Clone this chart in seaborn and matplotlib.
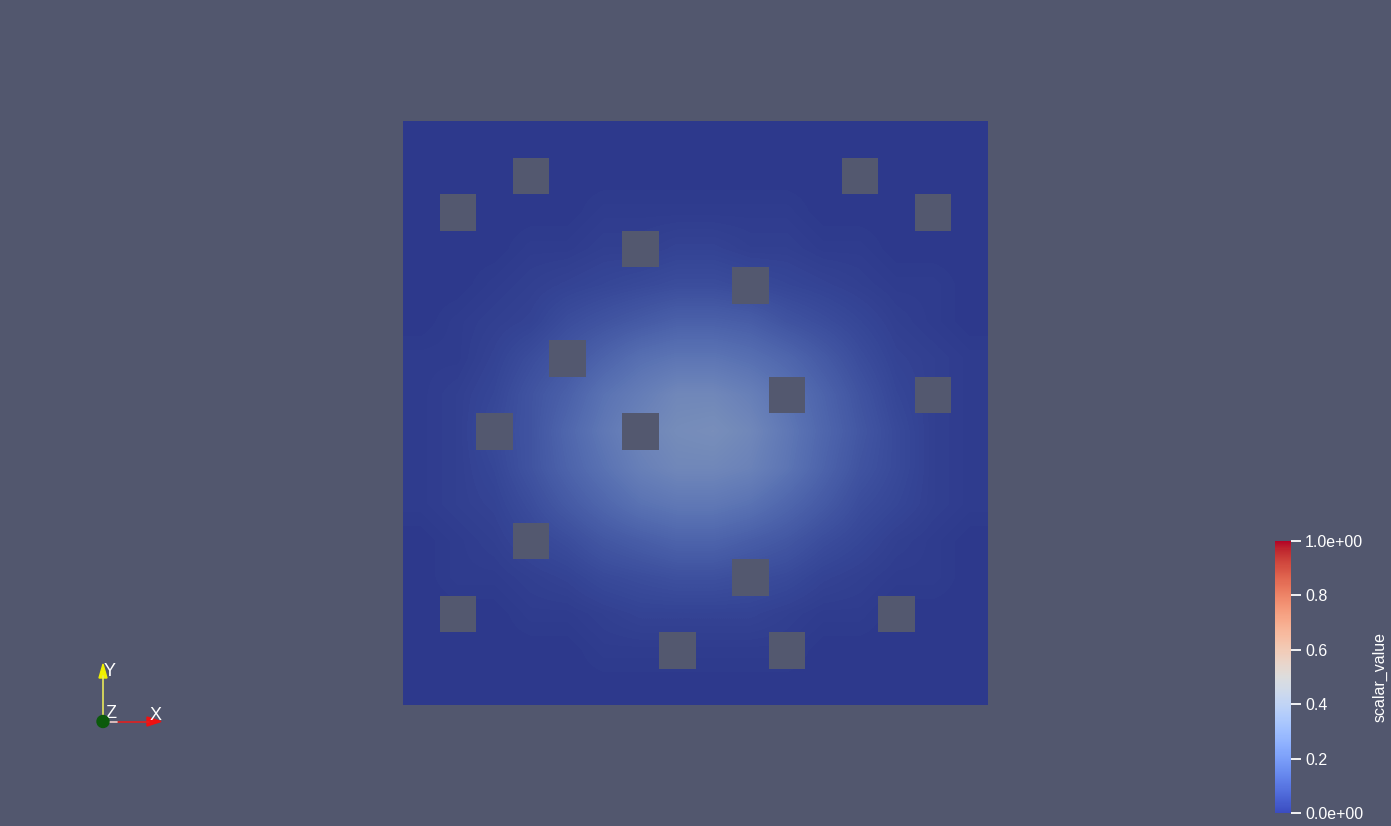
import numpy as np
import pandas as pd
import matplotlib
matplotlib.use("Agg")
import matplotlib.pyplot as plt
from matplotlib.colors import ListedColormap, Normalize
from matplotlib.cm import ScalarMappable
from matplotlib.patches import Polygon, Circle
import seaborn as sns

# Grid of 16 x 16 cells, holes given as (column, row from top)
n_cells = 16
hole_cols = [3, 12, 1, 14, 6, 9, 4, 10, 14, 2, 6, 3, 9, 1, 13, 7, 10]
hole_rows = [1, 1, 2, 2, 3, 4, 6, 7, 7, 8, 8, 11, 12, 13, 13, 14, 14]

# scalar_value, one list per row (top to bottom)
row_00 = [0.00, 0.00, 0.00, 0.00, 0.00, 0.00, 0.00, 0.00, 0.00, 0.00, 0.00, 0.00, 0.00, 0.00, 0.00, 0.00]
row_01 = [0.00, 0.00, 0.00, 0.00, 0.00, 0.00, 0.00, 0.00, 0.00, 0.00, 0.00, 0.00, 0.00, 0.00, 0.00, 0.00]
row_02 = [0.00, 0.00, 0.00, 0.00, 0.00, 0.01, 0.01, 0.01, 0.01, 0.01, 0.01, 0.00, 0.00, 0.00, 0.00, 0.00]
row_03 = [0.00, 0.00, 0.00, 0.01, 0.01, 0.02, 0.02, 0.03, 0.03, 0.02, 0.02, 0.01, 0.01, 0.00, 0.00, 0.00]
row_04 = [0.00, 0.00, 0.01, 0.02, 0.03, 0.04, 0.05, 0.06, 0.06, 0.05, 0.04, 0.03, 0.02, 0.01, 0.01, 0.00]
row_05 = [0.00, 0.01, 0.02, 0.03, 0.06, 0.08, 0.10, 0.12, 0.12, 0.11, 0.08, 0.06, 0.04, 0.02, 0.01, 0.00]
row_06 = [0.01, 0.01, 0.03, 0.06, 0.09, 0.13, 0.17, 0.19, 0.19, 0.17, 0.14, 0.10, 0.06, 0.03, 0.02, 0.01]
row_07 = [0.01, 0.02, 0.04, 0.08, 0.12, 0.18, 0.22, 0.26, 0.26, 0.23, 0.18, 0.13, 0.08, 0.04, 0.02, 0.01]
row_08 = [0.01, 0.02, 0.05, 0.08, 0.14, 0.20, 0.25, 0.28, 0.29, 0.26, 0.20, 0.14, 0.09, 0.05, 0.02, 0.01]
row_09 = [0.01, 0.02, 0.04, 0.08, 0.13, 0.18, 0.23, 0.26, 0.26, 0.24, 0.19, 0.13, 0.08, 0.05, 0.02, 0.01]
row_10 = [0.01, 0.02, 0.03, 0.06, 0.10, 0.14, 0.18, 0.20, 0.20, 0.18, 0.14, 0.10, 0.06, 0.04, 0.02, 0.01]
row_11 = [0.00, 0.01, 0.02, 0.04, 0.06, 0.09, 0.11, 0.13, 0.13, 0.11, 0.09, 0.06, 0.04, 0.02, 0.01, 0.00]
row_12 = [0.00, 0.01, 0.01, 0.02, 0.03, 0.05, 0.06, 0.07, 0.07, 0.06, 0.05, 0.03, 0.02, 0.01, 0.01, 0.00]
row_13 = [0.00, 0.00, 0.00, 0.01, 0.01, 0.02, 0.03, 0.03, 0.03, 0.03, 0.02, 0.01, 0.01, 0.00, 0.00, 0.00]
row_14 = [0.00, 0.00, 0.00, 0.00, 0.00, 0.01, 0.01, 0.01, 0.01, 0.01, 0.01, 0.00, 0.00, 0.00, 0.00, 0.00]
row_15 = [0.00, 0.00, 0.00, 0.00, 0.00, 0.00, 0.00, 0.00, 0.00, 0.00, 0.00, 0.00, 0.00, 0.00, 0.00, 0.00]

cbar_ticks = [0.0, 0.2, 0.4, 0.6, 0.8, 1.0]
cbar_labels = ["0.0e+00", "0.2", "0.4", "0.6", "0.8", "1.0e+00"]
cbar_title = "scalar_value"

BG = "#52576E"
W, H = 1391, 826


def main():
    sns.set_style("dark", {"axes.facecolor": BG, "figure.facecolor": BG})
    plt.rcParams["font.family"] = ["Liberation Sans", "DejaVu Sans"]

    field = np.array([row_00, row_01, row_02, row_03, row_04, row_05, row_06, row_07,
                      row_08, row_09, row_10, row_11, row_12, row_13, row_14, row_15])
    holes = pd.DataFrame(np.zeros((n_cells, n_cells)))
    for c, r in zip(hole_cols, hole_rows):
        holes.iloc[r, c] = 1.0

    # the surface is lit, so it looks darker than the plain colormap
    base = plt.get_cmap("coolwarm")(np.linspace(0, 1, 256))
    base[:, :3] *= np.array([0.78, 0.76, 0.73])
    lit = ListedColormap(base)

    fig = plt.figure(figsize=(W / 100, H / 100), dpi=100)
    ax = fig.add_axes([403 / W, 1 - 705 / H, 585 / W, 584 / H])
    ax.imshow(field, cmap=lit, vmin=0, vmax=1, interpolation="bilinear",
              extent=(0, n_cells, n_cells, 0), aspect="auto")
    sns.heatmap(holes, mask=holes == 0, cmap=ListedColormap(["#53586F"]), cbar=False,
                linewidths=0, ax=ax)
    ax.set_xlim(0, n_cells)
    ax.set_ylim(n_cells, 0)
    ax.axis("off")

    # colour legend
    cax = fig.add_axes([1275 / W, 1 - 813 / H, 16 / W, 272 / H])
    cb = fig.colorbar(ScalarMappable(Normalize(0, 1), cmap="coolwarm"), cax=cax)
    cb.outline.set_visible(False)
    cb.set_ticks(cbar_ticks)
    cb.set_ticklabels(cbar_labels)
    cax.tick_params(colors="white", labelcolor="white", length=7, width=1.3,
                    labelsize=11.5, pad=3)
    cb.set_label(cbar_title, color="white", fontsize=11.5, labelpad=7)

    # orientation triad
    tri = fig.add_axes([0, 0, 1, 1], facecolor="none")
    tri.set_xlim(0, W)
    tri.set_ylim(H, 0)
    tri.axis("off")
    ox, oy = 103, 721.5
    tri.plot([ox, ox], [oy, 676], color="#E8E85A", lw=1.2)
    tri.add_patch(Polygon([[ox - 4, 678], [ox + 4, 678], [ox, 664]], closed=True,
                          color="#F0F000"))
    tri.plot([ox, 149], [oy, oy], color="#E02020", lw=1.2)
    tri.add_patch(Polygon([[147, oy - 4.5], [147, oy + 4.5], [161, oy]], closed=True,
                          color="#F01010"))
    tri.plot([ox, 117], [oy, oy], color="#D8D8D8", lw=1.2)
    tri.add_patch(Circle((ox, oy), 6, color="#0B5A0B", zorder=5))
    tri.text(104, 671, "Y", color="white", fontsize=13, va="center", ha="left")
    tri.text(105, 714, "Z", color="white", fontsize=13, va="center", ha="left")
    tri.text(150, 716, "X", color="white", fontsize=13, va="center", ha="left")

    fig.savefig("out.png", dpi=100, facecolor=BG)


if __name__ == "__main__":
    main()
